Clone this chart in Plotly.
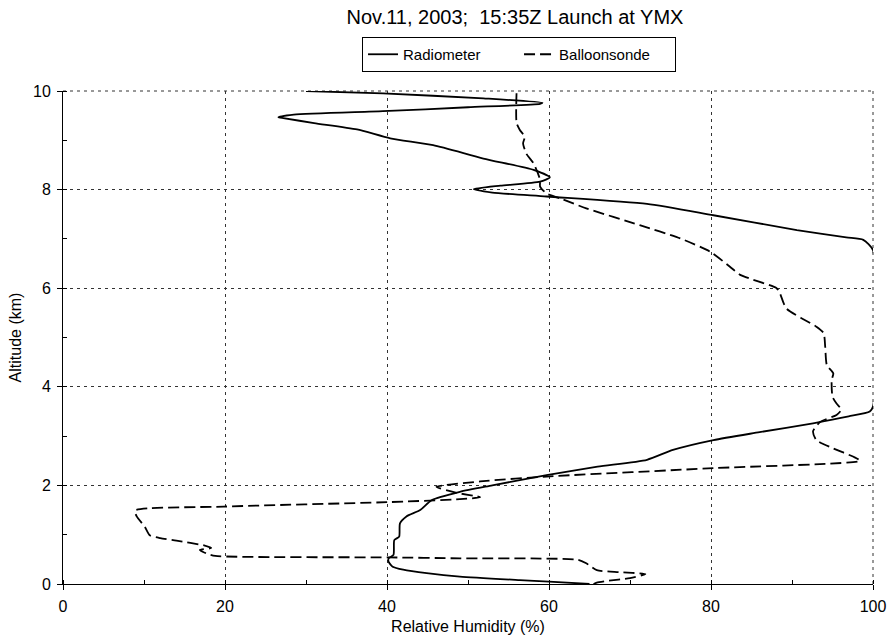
import plotly.graph_objects as go

# Radiometer (solid) profile: relative humidity (%) vs altitude (km)
radiometer_rh = [65.0, 60.0, 56.4, 49.0, 44.9, 42.0, 40.7, 40.2, 40.2, 40.8, 40.9, 41.5, 41.6, 42.4,
                 44.1, 45.5, 49.0, 53.0, 59.7, 66.0, 72.1, 75.3, 80.3, 86.0, 92.6, 97.0, 99.6, 100.0,
                 100.0, 98.8, 96.7, 90.6, 80.3, 72.1, 59.7, 53.0, 50.7, 54.0, 58.9, 60.1, 58.1, 51.9,
                 45.7, 40.4, 36.3, 31.0, 27.2, 26.6, 28.5, 39.5, 50.0, 58.9, 59.2, 51.9, 39.5, 30.0]
radiometer_alt = [0.00, 0.05, 0.08, 0.15, 0.22, 0.29, 0.35, 0.45, 0.52, 0.59, 0.89, 0.96, 1.23, 1.37,
                  1.50, 1.70, 1.87, 2.00, 2.21, 2.38, 2.52, 2.72, 2.92, 3.08, 3.26, 3.40, 3.50, 3.60,
                  6.77, 6.98, 7.03, 7.18, 7.48, 7.71, 7.86, 7.94, 8.01, 8.08, 8.16, 8.25, 8.40, 8.63,
                  8.90, 9.04, 9.22, 9.35, 9.45, 9.47, 9.52, 9.59, 9.67, 9.74, 9.76, 9.85, 9.95, 10.00]

# Balloonsonde (dashed) profile
sonde_rh = [65.5, 65.9, 67.1, 70.0, 71.9, 68.8, 65.9, 64.6, 63.6, 49.0, 40.2, 18.8, 17.7, 16.9,
            18.3, 17.5, 14.0, 12.0, 10.7, 10.1, 9.1, 8.9, 19.8, 40.0, 49.0, 51.5, 48.6, 46.1,
            51.5, 59.7, 80.3, 98.4, 97.6, 95.1, 93.0, 92.6, 93.5, 95.5, 96.1, 95.5, 95.0, 94.9,
            95.1, 94.3, 94.1, 93.9, 93.0, 89.3, 88.5, 88.1, 83.6, 82.3, 79.9, 76.2, 71.2, 64.6,
            61.4, 59.7, 58.9, 58.9, 58.1, 57.2, 56.8, 57.0, 56.4, 56.0, 56.0]
sonde_alt = [0.00, 0.03, 0.06, 0.12, 0.20, 0.24, 0.28, 0.42, 0.49, 0.52, 0.54, 0.57, 0.62, 0.69,
             0.73, 0.78, 0.88, 0.93, 0.99, 1.16, 1.37, 1.49, 1.57, 1.66, 1.72, 1.76, 1.85, 1.97,
             2.08, 2.18, 2.35, 2.50, 2.58, 2.75, 2.92, 3.10, 3.29, 3.43, 3.54, 3.66, 3.80, 4.14,
             4.27, 4.44, 4.81, 5.09, 5.22, 5.59, 5.90, 6.00, 6.27, 6.44, 6.74, 7.01, 7.28, 7.62,
             7.82, 7.92, 8.06, 8.20, 8.53, 8.73, 8.94, 9.07, 9.21, 9.35, 10.00]

title_text = "Nov.11, 2003;  15:35Z Launch at YMX"
x_title = "Relative Humidity (%)"
y_title = "Altitude (km)"

FONT = "Liberation Sans, Arial, sans-serif"
GRID = "#333333"
GRID_DASH = "3px,4px"

fig = go.Figure()
fig.add_trace(go.Scatter(x=radiometer_rh, y=radiometer_alt, mode="lines", name="Radiometer",
                         line=dict(color="black", width=1.8, shape="spline", smoothing=0.6)))
fig.add_trace(go.Scatter(x=sonde_rh, y=sonde_alt, mode="lines", name="Balloonsonde",
                         line=dict(color="black", width=1.8, dash="11px,5px", shape="spline", smoothing=0.6)))

fig.update_layout(
    width=889, height=643,
    margin=dict(l=63, r=16, t=91, b=59, autoexpand=False),
    paper_bgcolor="white", plot_bgcolor="white",
    font=dict(family=FONT, color="black", size=15),
    title=dict(text=title_text, x=515/889, xanchor="center", xref="container",
               y=1 - 10/643, yanchor="top", yref="container",
               font=dict(size=20, family=FONT, color="black")),
    legend=dict(orientation="h", x=0.563, xanchor="center", y=1.1095, yanchor="top",
                bordercolor="black", borderwidth=1, bgcolor="white",
                font=dict(size=15, family=FONT), tracegroupgap=0,
                entrywidth=111, entrywidthmode="pixels"),
    showlegend=True,
    shapes=[
        dict(type="line", xref="paper", yref="paper", x0=0, x1=1, y0=1, y1=1,
             line=dict(color=GRID, width=1, dash=GRID_DASH), layer="below"),
        dict(type="line", xref="paper", yref="paper", x0=1, x1=1, y0=0, y1=1,
             line=dict(color=GRID, width=1, dash=GRID_DASH), layer="below"),
    ],
)

fig.update_xaxes(range=[0, 100], dtick=20, tick0=0, showline=True, linecolor="black", linewidth=1,
                 ticks="outside", ticklen=5, tickcolor="black", zeroline=False, automargin=False,
                 showgrid=True, gridcolor=GRID, gridwidth=1, griddash=GRID_DASH,
                 minor=dict(dtick=10, ticks="inside", ticklen=4, tickcolor="black", showgrid=False),
                 title=dict(text=x_title, standoff=6, font=dict(size=16)),
                 tickfont=dict(size=16), ticklabelstandoff=3)
fig.update_yaxes(range=[0, 10], dtick=2, tick0=0, showline=True, linecolor="black", linewidth=1,
                 ticks="outside", ticklen=5, tickcolor="black", zeroline=False, automargin=False,
                 showgrid=True, gridcolor=GRID, gridwidth=1, griddash=GRID_DASH,
                 minor=dict(dtick=1, ticks="inside", ticklen=4, tickcolor="black", showgrid=False),
                 title=dict(text=y_title, standoff=7, font=dict(size=16)),
                 tickfont=dict(size=16), ticklabelstandoff=3)

fig.write_html("out.html", post_script="document.body.style.margin='0';",
               config={"displayModeBar": False})
